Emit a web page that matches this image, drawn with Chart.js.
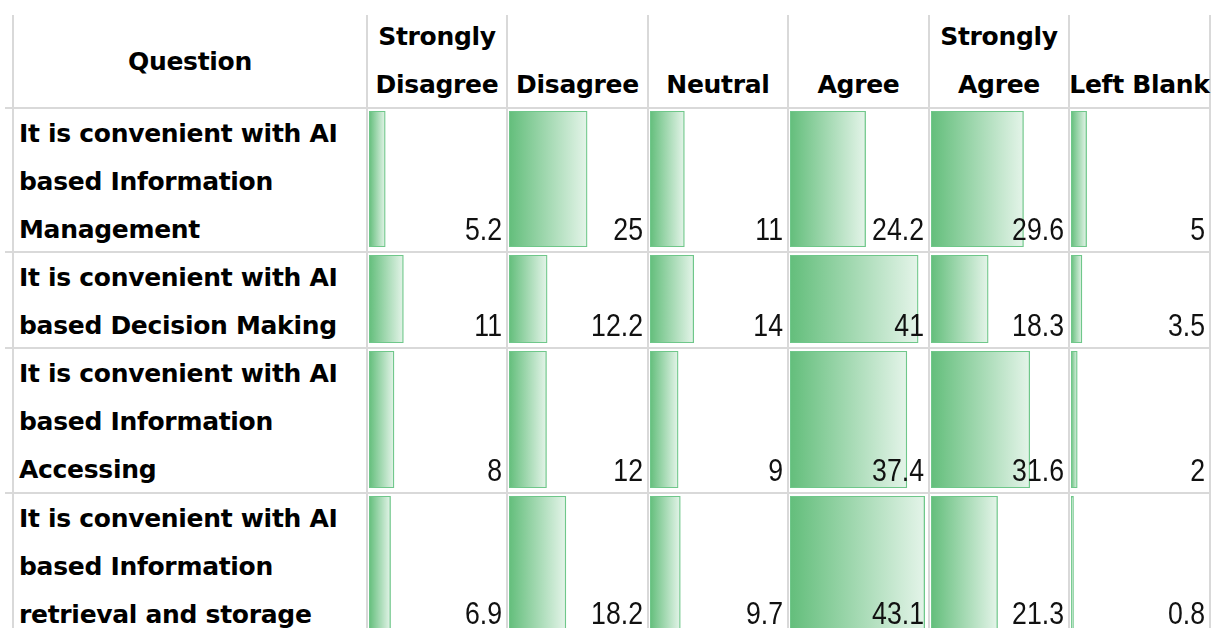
<!DOCTYPE html>
<html>
<head>
<meta charset="utf-8">
<script src="https://cdn.jsdelivr.net/npm/chart.js@4.4.1/dist/chart.umd.min.js"></script>
<style>
html,body{margin:0;padding:0;background:#fff;}
#wrap{position:relative;width:1215px;height:628px;overflow:hidden;font-family:"DejaVu Sans",sans-serif;color:#000;}
.vl{position:absolute;width:2px;background:#d9d9d9;}
.hl{position:absolute;height:2px;background:#d9d9d9;}
.hdr{position:absolute;font-weight:bold;font-size:25px;line-height:48px;text-align:center;letter-spacing:-0.3px;white-space:nowrap;}
.q{position:absolute;font-weight:bold;font-size:25px;line-height:48px;letter-spacing:-0.3px;white-space:nowrap;}
canvas.bar{position:absolute;}
.num{position:absolute;font-family:"Liberation Sans",Arial,sans-serif;font-size:31px;line-height:31px;height:31px;text-align:right;transform:scaleX(0.86);transform-origin:right center;white-space:nowrap;z-index:2;color:#111;}
</style>
</head>
<body>
<div id="wrap"></div>
<script>
// ---- data ----
const QUESTION_HEADER = "Question";
const QUESTIONS = [
  ["It is convenient with AI", "based Information", "Management"],
  ["It is convenient with AI", "based Decision Making"],
  ["It is convenient with AI", "based Information", "Accessing"],
  ["It is convenient with AI", "based Information", "retrieval and storage"]
];
const RESPONSE_LABELS = [["Strongly", "Disagree"], ["Disagree"], ["Neutral"], ["Agree"], ["Strongly", "Agree"], ["Left Blank"]];
const STRONGLY_DISAGREE = [5.2, 11, 8, 6.9];
const DISAGREE = [25, 12.2, 12, 18.2];
const NEUTRAL = [11, 14, 9, 9.7];
const AGREE = [24.2, 41, 37.4, 43.1];
const STRONGLY_AGREE = [29.6, 18.3, 31.6, 21.3];
const LEFT_BLANK = [5, 3.5, 2, 0.8];
const SERIES = [STRONGLY_DISAGREE, DISAGREE, NEUTRAL, AGREE, STRONGLY_AGREE, LEFT_BLANK];

// ---- layout ----
const COL_LINES = [13, 367, 507, 648, 788, 929, 1069, 1210];
const ROW_LINES = [108, 252, 348, 493, 636];
const TABLE_TOP = 15;
const PX_PER_UNIT = 3.125;
const BAR_START = '#63BE7B';
const BAR_END = '#e4f4e9';
const BAR_BORDER = '#6fc78a';

const wrap = document.getElementById('wrap');
function el(tag, cls, style, html) {
  const e = document.createElement(tag);
  if (cls) e.className = cls;
  Object.assign(e.style, style);
  if (html !== undefined) e.innerHTML = html;
  wrap.appendChild(e);
  return e;
}

// grid lines
COL_LINES.forEach(x => el('div', 'vl', {left: (x - 1) + 'px', top: TABLE_TOP + 'px', height: (628 - TABLE_TOP) + 'px'}));
ROW_LINES.forEach(y => el('div', 'hl', {left: '5px', width: (1211 - 5) + 'px', top: (y - 1) + 'px'}));

// header
el('div', 'hdr', {left: COL_LINES[0] + 'px', width: (COL_LINES[1] - COL_LINES[0]) + 'px', top: '38px'}, QUESTION_HEADER);
RESPONSE_LABELS.forEach((lines, c) => {
  const x0 = COL_LINES[c + 1], x1 = COL_LINES[c + 2];
  el('div', 'hdr', {left: (x0 - 10) + 'px', width: (x1 - x0 + 20) + 'px', top: (61 - 48 * (lines.length - 1)) + 'px'}, lines.join('<br>'));
});

// question labels
QUESTIONS.forEach((lines, r) => {
  el('div', 'q', {left: '19px', top: (ROW_LINES[r] + 2) + 'px'}, lines.join('<br>'));
});

// bars
function gradientFill(context) {
  const chart = context.chart;
  if (!chart.chartArea) return BAR_START;
  const xs = chart.scales.x;
  const x0 = xs.getPixelForValue(0);
  const x1 = xs.getPixelForValue(context.raw || 0);
  const g = chart.ctx.createLinearGradient(x0, 0, Math.max(x1, x0 + 1), 0);
  g.addColorStop(0, BAR_START);
  g.addColorStop(1, BAR_END);
  return g;
}

SERIES.forEach((values, c) => {
  const x0 = COL_LINES[c + 1], x1 = COL_LINES[c + 2];
  values.forEach((v, r) => {
    const y0 = ROW_LINES[r], y1 = ROW_LINES[r + 1];
    const w = x1 - x0 - 3, h = y1 - y0 - 8;
    const cv = el('canvas', 'bar', {left: (x0 + 2) + 'px', top: (y0 + 3) + 'px', width: w + 'px', height: h + 'px'});
    cv.width = w; cv.height = h;
    new Chart(cv, {
      type: 'bar',
      data: {
        labels: [QUESTIONS[r].join(' ')],
        datasets: [{
          label: RESPONSE_LABELS[c].join(' '),
          data: [v],
          backgroundColor: gradientFill,
          borderColor: BAR_BORDER,
          borderWidth: 1.3,
          borderSkipped: false,
          barPercentage: 1,
          categoryPercentage: 1
        }]
      },
      options: {
        indexAxis: 'y',
        responsive: false,
        animation: false,
        devicePixelRatio: 1,
        layout: {padding: 0},
        events: [],
        plugins: {legend: {display: false}, tooltip: {enabled: false}},
        scales: {
          x: {display: false, min: 0, max: w / PX_PER_UNIT},
          y: {display: false}
        }
      }
    });
    el('div', 'num', {left: (x0 - 20) + 'px', width: (x1 - 5 - x0 + 20) + 'px', top: (y1 - 38) + 'px'}, String(v));
  });
});
</script>
</body>
</html>
